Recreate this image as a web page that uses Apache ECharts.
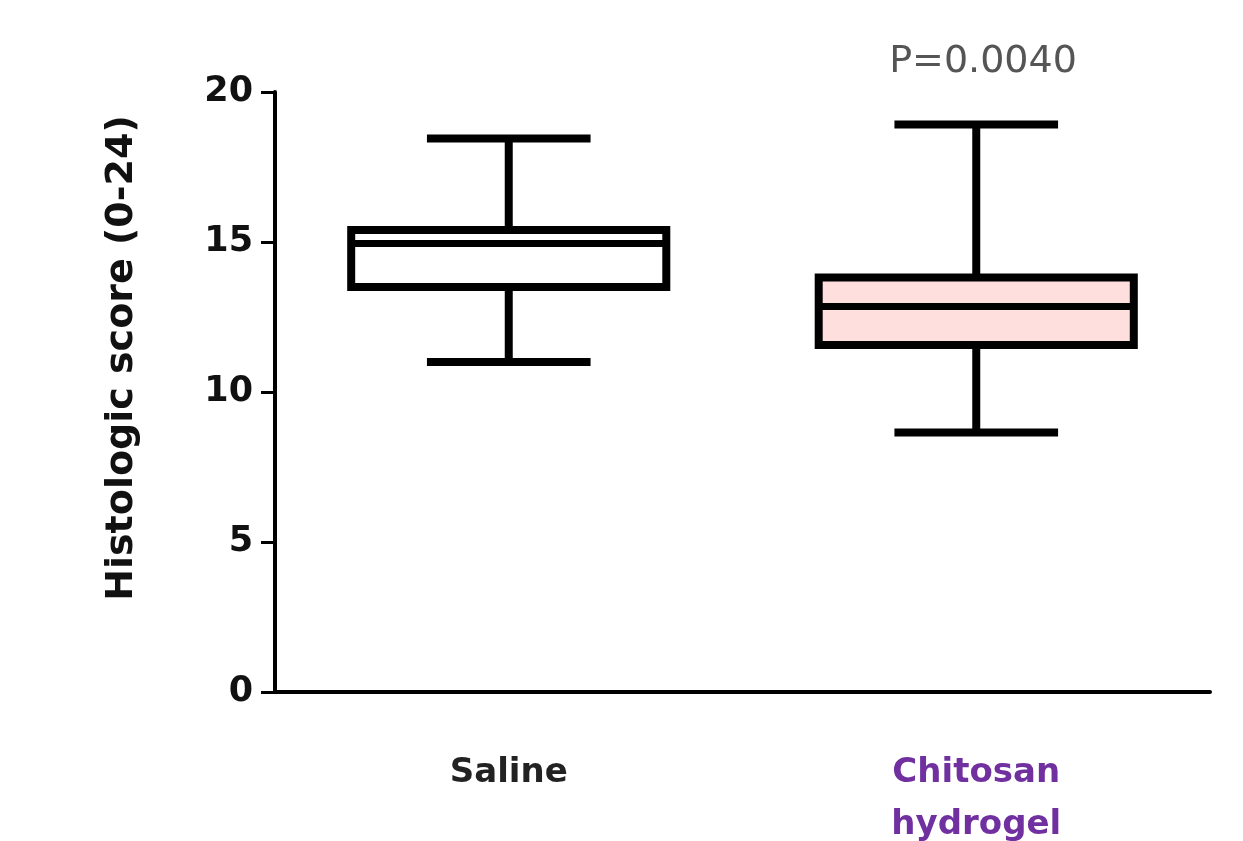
<!DOCTYPE html>
<html>
<head>
<meta charset="utf-8">
<style>
  html, body { margin: 0; padding: 0; background: #fff; }
  #chart { width: 1243px; height: 841px; }
</style>
<script src="https://cdn.jsdelivr.net/npm/echarts@6/dist/echarts.min.js"></script>
</head>
<body>
<div id="chart"></div>
<script>
var categories = ['Saline', 'Chitosan\nhydrogel'];
var labelColors = ['#222222', '#7030a0'];
var whiskerLow = [11, 8.65];
var q1 = [13.5, 11.57];
var median = [14.95, 12.85];
var q3 = [15.4, 13.82];
var whiskerHigh = [18.45, 18.92];
var boxFills = ['#ffffff', '#ffdede'];
var yTicks = [0, 5, 10, 15, 20];

var boxData = categories.map(function (c, i) {
    return [i, whiskerLow[i], q1[i], median[i], q3[i], whiskerHigh[i]];
});

function renderBox(params, api) {
    var i = params.dataIndex;
    var x = api.value(0);
    var band = api.size([1, 0])[0];
    var boxHalf = band * 0.337;
    var capHalf = band * 0.175;
    var pLow = api.coord([x, api.value(1)]);
    var pQ1 = api.coord([x, api.value(2)]);
    var pMed = api.coord([x, api.value(3)]);
    var pQ3 = api.coord([x, api.value(4)]);
    var pHigh = api.coord([x, api.value(5)]);
    var cx = pMed[0];
    var line = {stroke: '#000', lineWidth: 8, lineCap: 'butt'};
    return {
        type: 'group',
        children: [
            {type: 'line', shape: {x1: cx, y1: pHigh[1], x2: cx, y2: pQ3[1]}, style: line},
            {type: 'line', shape: {x1: cx, y1: pQ1[1], x2: cx, y2: pLow[1]}, style: line},
            {type: 'line', shape: {x1: cx - capHalf, y1: pHigh[1], x2: cx + capHalf, y2: pHigh[1]}, style: line},
            {type: 'line', shape: {x1: cx - capHalf, y1: pLow[1], x2: cx + capHalf, y2: pLow[1]}, style: line},
            {
                type: 'rect',
                shape: {x: cx - boxHalf, y: pQ3[1], width: boxHalf * 2, height: pQ1[1] - pQ3[1]},
                style: {fill: boxFills[i], stroke: '#000', lineWidth: 8}
            },
            {type: 'line', shape: {x1: cx - boxHalf, y1: pMed[1], x2: cx + boxHalf, y2: pMed[1]}, style: {stroke: '#000', lineWidth: 7}}
        ]
    };
}

var chart = echarts.init(document.getElementById('chart'));
var option = {
    backgroundColor: '#fff',
    animation: false,
    grid: {left: 275, right: 33, top: 92, bottom: 149, outerBoundsMode: 'none', containLabel: false},
    xAxis: {
        type: 'category',
        data: categories.map(function (c, i) {
            return {value: c, textStyle: {color: labelColors[i]}};
        }),
        axisLine: {lineStyle: {color: '#000', width: 4}},
        axisTick: {alignWithLabel: true, length: 20, lineStyle: {color: '#000', width: 3}},
        axisLabel: {
            margin: 55,
            fontFamily: 'DejaVu Sans',
            fontWeight: 'bold',
            fontSize: 34,
            lineHeight: 52,
            verticalAlign: 'top'
        }
    },
    yAxis: {
        type: 'value',
        min: yTicks[0],
        max: yTicks[yTicks.length - 1],
        interval: 5,
        splitLine: {show: false},
        axisLine: {show: true, lineStyle: {color: '#000', width: 4}},
        axisTick: {show: true, length: 14, lineStyle: {color: '#000', width: 3}},
        axisLabel: {
            margin: 22,
            color: '#111',
            fontFamily: 'DejaVu Sans',
            fontWeight: 'bold',
            fontSize: 35
        }
    },
    graphic: [
        {
            type: 'text',
            x: 122,
            y: 358,
            rotation: Math.PI / 2,
            style: {
                text: 'Histologic score (0-24)',
                fill: '#111',
                font: 'bold 38px "DejaVu Sans"',
                textAlign: 'center',
                textVerticalAlign: 'middle'
            }
        },
        {
            type: 'text',
            x: 983,
            y: 62,
            style: {
                text: 'P=0.0040',
                fill: '#555',
                font: '38px "DejaVu Sans"',
                textAlign: 'center',
                textVerticalAlign: 'middle'
            }
        }
    ],
    series: [{
        type: 'custom',
        renderItem: renderBox,
        encode: {x: 0, y: [1, 2, 3, 4, 5]},
        data: boxData
    }]
};
chart.setOption(option);
</script>
</body>
</html>
